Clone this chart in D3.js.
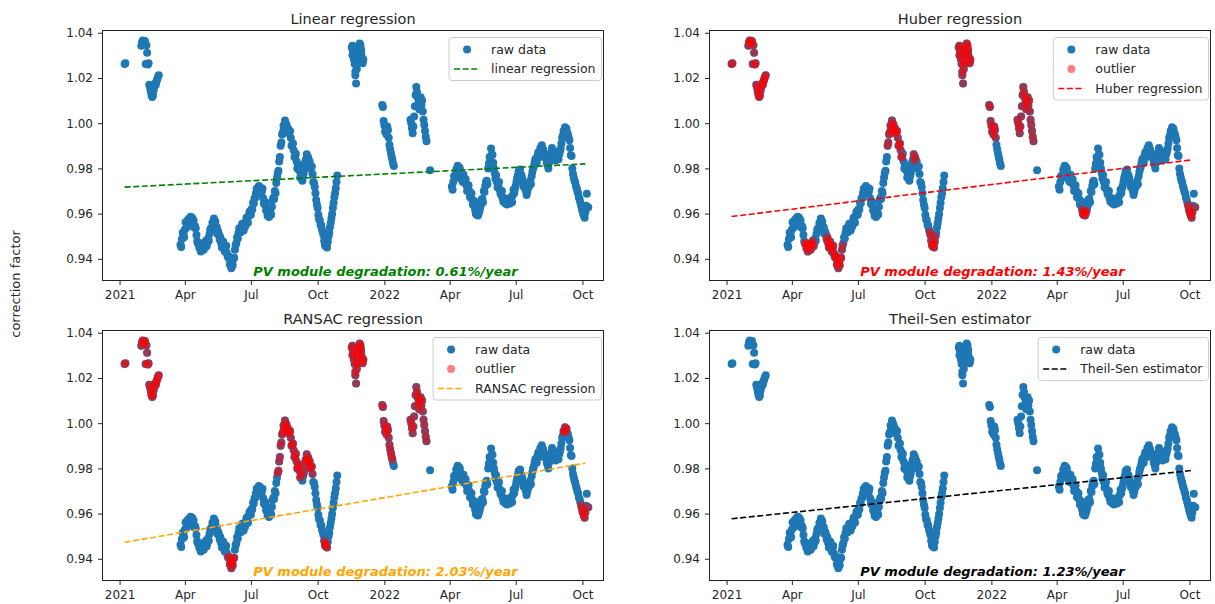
<!DOCTYPE html>
<html>
<head>
<meta charset="utf-8">
<script src="https://d3js.org/d3.v7.min.js"></script>
<style>
  body { margin: 0; background: #fff; }
  svg { display: block; font-family: "DejaVu Sans", sans-serif; }
</style>
</head>
<body>
<svg id="chart" width="1215" height="604"></svg>
<script>
// ---- data ----
// raw correction factor, split in the chunks where the measurements exist
const janPoints = [1.0262, 1.0265];
const febPoints = [1.0342, 1.0358, 1.0366, 1.0360, 1.0352, 1.0364, 1.0262, 1.0345, 1.0312, 1.0260,
  1.0265, 1.0170, 1.0158, 1.0140, 1.0125, 1.0116, 1.0122, 1.0145, 1.0162, 1.0175,
  1.0170, 1.0185, 1.0195, 1.0205, 1.0212];
// even days of the 2021 wave
const wave2021 = [0.9462, 0.9488, 0.9512, 0.9530, 0.9560, 0.9572, 0.9578, 0.9586, 0.9582, 0.9570,
  0.9545, 0.9505, 0.9468, 0.9448, 0.9432, 0.9450, 0.9440, 0.9462, 0.9455, 0.9490,
  0.9510, 0.9535, 0.9560, 0.9578, 0.9565, 0.9540, 0.9520, 0.9485, 0.9470, 0.9462,
  0.9450, 0.9446, 0.9425, 0.9405, 0.9375, 0.9358, 0.9372, 0.9405, 0.9460, 0.9495,
  0.9515, 0.9525, 0.9540, 0.9535, 0.9552, 0.9565, 0.9572, 0.9590, 0.9605, 0.9620,
  0.9648, 0.9668, 0.9690, 0.9705, 0.9722, 0.9715, 0.9695, 0.9668, 0.9640, 0.9615,
  0.9590, 0.9585, 0.9605, 0.9630, 0.9670, 0.9700, 0.9735, 0.9780, 0.9830, 0.9900,
  0.9950, 0.9990, 1.0012, 0.9995, 0.9978, 0.9960, 0.9935, 0.9905, 0.9880, 0.9850,
  0.9830, 0.9810, 0.9790, 0.9770, 0.9745, 0.9780, 0.9830, 0.9862, 0.9848, 0.9832,
  0.9805, 0.9775, 0.9735, 0.9690, 0.9640, 0.9595, 0.9570, 0.9548, 0.9520, 0.9480,
  0.9455, 0.9450, 0.9500, 0.9540, 0.9578, 0.9625, 0.9672, 0.9712, 0.9768];
// odd days of the 2021 wave (other edge of the cloud)
const wave2021b = [0.9452, 0.9515, 0.9495, 0.9562, 0.9540, 0.9552, 0.9560, 0.9565, 0.9552, 0.9538,
  0.9535, 0.9478, 0.9470, 0.9452, 0.9458, 0.9468, 0.9470, 0.9480, 0.9470, 0.9480,
  0.9530, 0.9525, 0.9545, 0.9555, 0.9540, 0.9510, 0.9508, 0.9495, 0.9450, 0.9475,
  0.9432, 0.9458, 0.9410, 0.9410, 0.9380, 0.9385, 0.9400, 0.9440, 0.9470, 0.9490,
  0.9535, 0.9518, 0.9555, 0.9525, 0.9542, 0.9582, 0.9560, 0.9608, 0.9595, 0.9618,
  0.9645, 0.9670, 0.9710, 0.9690, 0.9700, 0.9690, 0.9710, 0.9645, 0.9650, 0.9610,
  0.9600, 0.9605, 0.9595, 0.9660, 0.9665, 0.9690, 0.9760, 0.9790, 0.9850, 0.9915,
  0.9960, 0.9975, 0.9990, 0.9970, 0.9955, 0.9965, 0.9900, 0.9910, 0.9850, 0.9865,
  0.9800, 0.9815, 0.9760, 0.9775, 0.9765, 0.9808, 0.9840, 0.9835, 0.9825, 0.9800,
  0.9808, 0.9740, 0.9718, 0.9660, 0.9625, 0.9575, 0.9550, 0.9530, 0.9505, 0.9462,
  0.9465, 0.9475, 0.9515, 0.9558, 0.9598, 0.9648, 0.9690, 0.9740];
const novPoints = [1.0335, 1.0342, 1.0318, 1.0300, 1.0262, 1.0212, 1.0176, 1.0240, 1.0275, 1.0305,
  1.0330, 1.0352, 1.0345, 1.0325, 1.0290, 1.0272, 1.0282];
const novPointsB = [1.0300, 1.0282, 1.0228, 1.0262, 1.0320, 1.0338, 1.0305, 1.0265];
const decJanPoints = [1.0080, 1.0072, 1.0010, 0.9990, 0.9962, 0.9978, 0.9950, 0.9985, 0.9970, 0.9935,
  0.9905, 0.9885, 0.9868, 0.9852, 0.9838, 0.9822, 0.9810];
const febMarPoints = [1.0015, 1.0000, 0.9978, 0.9955, 0.9985, 1.0030, 1.0075, 1.0125, 1.0160, 1.0138,
  1.0112, 1.0088, 1.0062, 1.0098, 1.0115, 1.0078, 1.0100, 1.0052, 1.0015, 0.9992,
  0.9965, 0.9940, 0.9920];
const marPoint = [0.9792];
// even days of the 2022 wave
const wave2022 = [0.9720, 0.9740, 0.9768, 0.9795, 0.9812, 0.9805, 0.9780, 0.9765, 0.9772, 0.9745,
  0.9725, 0.9712, 0.9700, 0.9688, 0.9662, 0.9640, 0.9618, 0.9595, 0.9592, 0.9612,
  0.9638, 0.9665, 0.9700, 0.9722, 0.9745, 0.9800, 0.9850, 0.9888, 0.9860, 0.9800,
  0.9755, 0.9740, 0.9722, 0.9705, 0.9685, 0.9668, 0.9655, 0.9645, 0.9640, 0.9650,
  0.9645, 0.9665, 0.9682, 0.9690, 0.9722, 0.9758, 0.9788, 0.9795, 0.9770, 0.9738,
  0.9715, 0.9700, 0.9698, 0.9718, 0.9745, 0.9765, 0.9800, 0.9825, 0.9842, 0.9855,
  0.9868, 0.9890, 0.9902, 0.9882, 0.9865, 0.9842, 0.9815, 0.9825, 0.9862, 0.9890,
  0.9878, 0.9855, 0.9842, 0.9852, 0.9862, 0.9888, 0.9935, 0.9965, 0.9982, 0.9975,
  0.9950, 0.9925, 0.9858, 0.9800, 0.9760, 0.9738, 0.9712, 0.9690, 0.9665, 0.9638,
  0.9610, 0.9590, 0.9605, 0.9688, 0.9628];
// odd days of the 2022 wave
const wave2022b = [0.9705, 0.9765, 0.9760, 0.9790, 0.9780, 0.9800, 0.9752, 0.9740, 0.9740, 0.9752,
  0.9700, 0.9725, 0.9672, 0.9690, 0.9640, 0.9655, 0.9600, 0.9610, 0.9600, 0.9625,
  0.9662, 0.9650, 0.9695, 0.9740, 0.9730, 0.9820, 0.9835, 0.9860, 0.9825, 0.9780,
  0.9770, 0.9715, 0.9740, 0.9688, 0.9700, 0.9652, 0.9668, 0.9655, 0.9665, 0.9660,
  0.9670, 0.9650, 0.9705, 0.9710, 0.9740, 0.9770, 0.9765, 0.9770, 0.9755, 0.9720,
  0.9730, 0.9682, 0.9715, 0.9732, 0.9730, 0.9785, 0.9808, 0.9840, 0.9825, 0.9870,
  0.9850, 0.9875, 0.9885, 0.9860, 0.9850, 0.9825, 0.9800, 0.9840, 0.9870, 0.9868,
  0.9862, 0.9835, 0.9865, 0.9840, 0.9875, 0.9910, 0.9945, 0.9960, 0.9962, 0.9958,
  0.9935, 0.9890, 0.9855, 0.9775, 0.9745, 0.9722, 0.9698, 0.9672, 0.9650, 0.9625,
  0.9600, 0.9582, 0.9635];

const segmentStarts = ["2021-01-08", "2021-01-31", "2021-03-26", "2021-03-27", "2021-11-17",
  "2021-11-18", "2021-12-29", "2022-02-06", "2022-03-05", "2022-04-04", "2022-04-05"];
const segmentSteps = [1, 1, 2, 2, 1, 2, 1, 1, 1, 2, 2]; // days between readings
const segmentValues = [janPoints, febPoints, wave2021, wave2021b, novPoints,
  novPointsB, decJanPoints, febMarPoints, marPoint, wave2022, wave2022b];

// fitted lines (value at start and end of the fit)
const fitDates = ["2021-01-08", "2022-10-05"];
const linearFit = [0.9717, 0.9820];
const huberFit = [0.9587, 0.9838];
const ransacFit = [0.9473, 0.9823];
const theilSenFit = [0.9577, 0.9791];

// periods flagged as outliers
const huberOutliers = [
  ["2021-01-01", "2021-03-01"], ["2021-04-19", "2021-05-01"], ["2021-05-19", "2021-06-10"],
  ["2021-08-11", "2021-08-31"], ["2021-09-16", "2021-09-18"], ["2021-10-08", "2021-10-16"],
  ["2021-11-10", "2021-12-10"], ["2021-12-29", "2022-01-07"], ["2022-02-01", "2022-03-01"],
  ["2022-05-06", "2022-05-12"], ["2022-09-29", "2022-10-05"], ["2022-10-09", "2022-10-09"]];
const ransacOutliers = [
  ["2021-01-01", "2021-03-01"], ["2021-05-31", "2021-06-08"], ["2021-08-07", "2021-09-08"],
  ["2021-09-12", "2021-09-24"], ["2021-10-10", "2021-10-14"], ["2021-11-10", "2021-12-10"],
  ["2021-12-29", "2022-01-12"], ["2022-02-01", "2022-03-01"], ["2022-09-05", "2022-09-09"],
  ["2022-09-29", "2022-10-05"], ["2022-10-09", "2022-10-09"]];

const panelTitles = ["Linear regression", "Huber regression", "RANSAC regression", "Theil-Sen estimator"];
const fitLabels = ["linear regression", "Huber regression", "RANSAC regression", "Theil-Sen estimator"];
const fitColors = ["green", "red", "orange", "black"];
const fitValues = [linearFit, huberFit, ransacFit, theilSenFit];
const outlierRanges = [null, huberOutliers, ransacOutliers, null];
const degradationRates = ["0.61", "1.43", "2.03", "1.23"];

const xTickDates = ["2021-01-01", "2021-04-01", "2021-07-01", "2021-10-01",
  "2022-01-01", "2022-04-01", "2022-07-01", "2022-10-01"];
const xTickLabels = ["2021", "Apr", "Jul", "Oct", "2022", "Apr", "Jul", "Oct"];
const yTicks = [0.94, 0.96, 0.98, 1.00, 1.02, 1.04];

// ---- layout ----
const panelX = [102, 709, 102, 709];
const panelY = [30, 30, 330, 330];
const W = 501, H = 250;
const textColor = "#262626";

const parse = d3.timeParse("%Y-%m-%d");

// build the point list from the chunks
const points = [];
segmentValues.forEach((vals, s) => {
  const t0 = parse(segmentStarts[s]);
  vals.forEach((v, i) => {
    points.push({ date: d3.timeDay.offset(t0, i * segmentSteps[s]), value: v });
  });
});

const x = d3.scaleTime()
  .domain([new Date(2020, 11, 8, 12), new Date(2022, 9, 30)])
  .range([0, W]);
const y = d3.scaleLinear()
  .domain([0.9304, 1.0410])
  .range([H, 0]);

const svg = d3.select("#chart");

function inRanges(d, ranges) {
  return ranges.some(([a, b]) => d.date >= parse(a) && d.date <= parse(b));
}

panelTitles.forEach((title, p) => {
  const g = svg.append("g")
    .attr("transform", `translate(${panelX[p] + 0.5},${panelY[p] + 0.5})`);

  // title
  g.append("text")
    .attr("x", W / 2)
    .attr("y", -7)
    .attr("text-anchor", "middle")
    .attr("font-size", 14.5)
    .attr("fill", textColor)
    .text(title);

  // axes
  const xAxis = g.append("g")
    .attr("transform", `translate(0,${H})`)
    .call(d3.axisBottom(x)
      .tickValues(xTickDates.map(parse))
      .tickFormat((d, i) => xTickLabels[i])
      .tickSize(4.5)
      .tickPadding(5));
  const yAxis = g.append("g")
    .call(d3.axisLeft(y)
      .tickValues(yTicks)
      .tickFormat(d3.format(".2f"))
      .tickSize(4.5)
      .tickPadding(5));
  [xAxis, yAxis].forEach(a => {
    a.select(".domain").remove();
    a.selectAll("line").attr("stroke", textColor);
    a.selectAll("text")
      .attr("fill", textColor)
      .attr("font-size", 12)
      .attr("font-family", "DejaVu Sans, sans-serif");
  });

  // raw data
  g.append("g").selectAll("circle")
    .data(points)
    .join("circle")
    .attr("cx", d => x(d.date))
    .attr("cy", d => y(d.value))
    .attr("r", 4)
    .attr("fill", "#1f77b4");

  // outliers on top
  if (outlierRanges[p]) {
    g.append("g").selectAll("circle")
      .data(points.filter(d => inRanges(d, outlierRanges[p])))
      .join("circle")
      .attr("cx", d => x(d.date))
      .attr("cy", d => y(d.value))
      .attr("r", 4)
      .attr("fill", "red")
      .attr("fill-opacity", 0.5);
  }

  // fitted line
  const fit = fitDates.map((t, i) => [parse(t), fitValues[p][i]]);
  g.append("path")
    .datum(fit)
    .attr("d", d3.line().x(d => x(d[0])).y(d => y(d[1])))
    .attr("fill", "none")
    .attr("stroke", fitColors[p])
    .attr("stroke-width", 1.6)
    .attr("stroke-dasharray", "6,2.6");

  // degradation note
  g.append("text")
    .attr("x", 283)
    .attr("y", H - 5)
    .attr("text-anchor", "middle")
    .attr("font-size", 13)
    .attr("font-weight", "bold")
    .attr("font-style", "italic")
    .attr("fill", fitColors[p])
    .text(`PV module degradation: ${degradationRates[p]}%/year`);

  // frame
  g.append("rect")
    .attr("width", W)
    .attr("height", H)
    .attr("fill", "none")
    .attr("stroke", "#222")
    .attr("stroke-width", 1);

  // legend
  const entries = [{ kind: "dot", color: "#1f77b4", opacity: 1, label: "raw data" }];
  if (outlierRanges[p]) entries.push({ kind: "dot", color: "red", opacity: 0.5, label: "outlier" });
  entries.push({ kind: "line", color: fitColors[p], label: fitLabels[p] });

  const leg = g.append("g");
  const box = leg.append("rect");
  const texts = [];
  entries.forEach((e, i) => {
    const cy = 12 + i * 19.5;
    if (e.kind === "dot") {
      leg.append("circle")
        .attr("cx", 18).attr("cy", cy).attr("r", 4)
        .attr("fill", e.color).attr("fill-opacity", e.opacity);
    } else {
      leg.append("line")
        .attr("x1", 5).attr("x2", 31).attr("y1", cy).attr("y2", cy)
        .attr("stroke", e.color).attr("stroke-width", 1.6)
        .attr("stroke-dasharray", "6,2.6");
    }
    texts.push(leg.append("text")
      .attr("x", 42).attr("y", cy).attr("dy", "0.35em")
      .attr("font-size", 12.5)
      .attr("fill", textColor)
      .text(e.label));
  });
  const textW = d3.max(texts, t => t.node().getComputedTextLength());
  const boxW = 42 + textW + 6;
  const boxH = 23.5 + 19.5 * (entries.length - 1);
  box.attr("width", boxW).attr("height", boxH)
    .attr("rx", 3)
    .attr("fill", "white").attr("fill-opacity", 0.8)
    .attr("stroke", "#cccccc").attr("stroke-width", 1);
  leg.attr("transform", `translate(${W - 2 - boxW},7)`);
});

// shared y label
svg.append("text")
  .attr("transform", "translate(15,284) rotate(-90)")
  .attr("text-anchor", "middle")
  .attr("dominant-baseline", "central")
  .attr("font-size", 13)
  .attr("fill", textColor)
  .text("correction factor");
</script>
</body>
</html>
